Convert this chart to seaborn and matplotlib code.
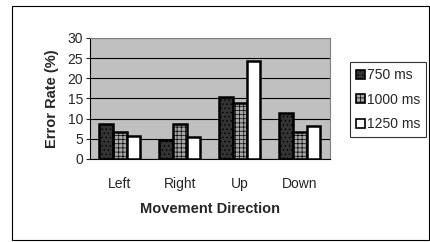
import numpy as np
import pandas as pd
import matplotlib
matplotlib.use("Agg")
import matplotlib.pyplot as plt
import seaborn as sns
from matplotlib.patches import Rectangle, Patch

directions = ["Left", "Right", "Up", "Down"]
delays = ["750 ms", "1000 ms", "1250 ms"]
err_750 = [8.75, 4.75, 15.25, 11.4]
err_1000 = [6.8, 8.8, 13.9, 6.6]
err_1250 = [5.75, 5.5, 24.3, 8.1]

df = pd.DataFrame({
    "dir": directions * 3,
    "delay": np.repeat(delays, 4),
    "err": err_750 + err_1000 + err_1250,
})

sns.set_style("white")
plt.rcParams["font.family"] = ["Liberation Sans", "DejaVu Sans"]
plt.rcParams["hatch.linewidth"] = 0.5

fills = {"750 ms": "#333333", "1000 ms": "#a8a8a8", "1250 ms": "white"}
hatches = {"750 ms": "....", "1000 ms": "++++", "1250 ms": ""}

fig = plt.figure(figsize=(4.3, 2.42), dpi=100)
ax = fig.add_axes([0.209, 0.343, 0.558, 0.5])

sns.barplot(data=df, x="dir", y="err", hue="delay", order=directions,
            hue_order=delays, palette=fills, width=0.68, gap=0,
            edgecolor="black", linewidth=1.8, legend=False, ax=ax)

# hatch each series
for cont, d in zip(ax.containers, delays):
    for bar in cont:
        bar.set_hatch(hatches[d])

ax.set_facecolor("#c0c0c0")
ax.set_ylim(0, 30)
ax.set_yticks(range(0, 31, 5))
ax.set_xlim(-0.5, 3.5)
ax.yaxis.grid(True, color="black", linewidth=0.8)
ax.set_axisbelow(True)
for s in ["top", "right"]:
    ax.spines[s].set_color("#808080")
ax.spines["left"].set_color("black")
ax.spines["bottom"].set_color("black")

ax.set_xticks([0, 1, 2, 3])
ax.set_xticklabels(directions, fontsize=10)
ax.set_xticks([0.5, 1.5, 2.5, 3.5], minor=True)
ax.tick_params(axis="x", which="major", length=0, pad=13)
ax.tick_params(axis="x", which="minor", length=3, width=0.8, direction="out", color="black")
ax.tick_params(axis="y", labelsize=10, length=3, width=0.8, direction="out", left=True, pad=2)

ax.set_xlabel("Movement Direction", fontsize=10.5, fontweight="bold", labelpad=8)
ax.set_ylabel("Error Rate (%)", fontsize=10.5, fontweight="bold", labelpad=6)

handles = [Patch(facecolor=fills[d], edgecolor="black", hatch=hatches[d], linewidth=1.2)
           for d in delays]
leg = fig.legend(handles, delays, loc="upper left", bbox_to_anchor=(350 / 430, 1 - 62 / 242),
                 fontsize=10, frameon=True, fancybox=False, edgecolor="black",
                 handlelength=0.6, handleheight=0.6, handletextpad=0.15,
                 labelspacing=0.75, borderpad=0.45, borderaxespad=0)
leg.get_frame().set_linewidth(0.8)

# outer chart border
fig.patches.append(Rectangle((12 / 430, 2 / 242), 417 / 430, 234 / 242,
                             transform=fig.transFigure, fill=False,
                             edgecolor="black", linewidth=0.8))

fig.savefig("out.png", dpi=100)
